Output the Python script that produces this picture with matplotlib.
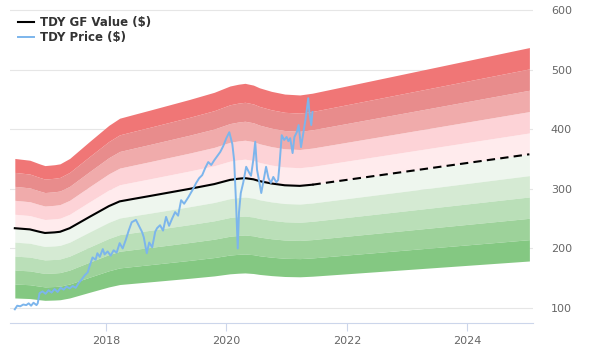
import matplotlib
matplotlib.use('Agg')
import matplotlib.pyplot as plt
import numpy as np

# GF Value (solid = historical, dashed = projected)
gf_years = [2016.49, 2016.74, 2016.9, 2016.99, 2017.15, 2017.24, 2017.4,
            2017.73, 2018.05, 2018.23, 2018.45, 2018.73, 2019.39, 2019.8,
            2020.06, 2020.2, 2020.31, 2020.45, 2020.55, 2020.75, 2020.97,
            2021.22, 2021.43]
gf_vals = [234, 232, 228, 226, 227, 228, 234, 253, 271, 279, 283, 288, 300,
           308, 315, 317, 318, 316, 313, 309, 306, 305, 307]
proj_years = [2021.43, 2025.03]
proj_vals = [307, 358]

# TDY price
price_years = [2016.49, 2016.53, 2016.58, 2016.63, 2016.68, 2016.72, 2016.76,
               2016.8, 2016.85, 2016.87, 2016.9, 2016.95, 2017.0, 2017.05,
               2017.1, 2017.15, 2017.2, 2017.25, 2017.3, 2017.35, 2017.4,
               2017.45, 2017.5, 2017.55, 2017.6, 2017.65, 2017.7, 2017.73,
               2017.78, 2017.83, 2017.86, 2017.9, 2017.95, 2017.98, 2018.03,
               2018.08, 2018.13, 2018.18, 2018.23, 2018.28, 2018.33, 2018.38,
               2018.43, 2018.5, 2018.55, 2018.6, 2018.63, 2018.68, 2018.72,
               2018.77, 2018.82, 2018.85, 2018.9, 2018.95, 2019.0, 2019.05,
               2019.1, 2019.15, 2019.2, 2019.25, 2019.3, 2019.37, 2019.45,
               2019.5, 2019.55, 2019.6, 2019.65, 2019.7, 2019.75, 2019.8,
               2019.85, 2019.9, 2019.95, 2020.0, 2020.05, 2020.1, 2020.13,
               2020.16, 2020.19, 2020.21, 2020.24, 2020.28, 2020.33, 2020.38,
               2020.41, 2020.45, 2020.48, 2020.51, 2020.55, 2020.58, 2020.62,
               2020.66, 2020.7, 2020.74, 2020.78, 2020.83, 2020.86, 2020.88,
               2020.92, 2020.96, 2021.0, 2021.03, 2021.06, 2021.1, 2021.13,
               2021.17, 2021.2, 2021.24, 2021.28, 2021.32, 2021.36, 2021.38,
               2021.41, 2021.43]
price_vals = [98, 104, 103, 106, 105, 108, 104, 109, 105, 108, 125, 128, 124,
              130, 126, 132, 127, 134, 131, 136, 133, 137, 134, 142, 148, 155,
              160, 170, 185, 181, 192, 186, 199, 190, 195, 188, 197, 193, 209,
              200, 214, 230, 244, 248, 238, 228, 219, 192, 210, 202, 228, 234,
              239, 230, 253, 238, 250, 261, 255, 281, 275, 286, 300, 310, 318,
              323, 335, 345, 340, 348, 355, 362, 372, 385, 395, 375, 348, 280,
              200, 260, 293, 310, 337, 327, 322, 350, 379, 332, 310, 293, 315,
              337, 318, 310, 320, 311, 315, 337, 390, 382, 387, 380, 385, 360,
              387, 395, 407, 370, 395, 420, 452, 427, 407, 429]

band_steps = [0.1, 0.2, 0.3, 0.4, 0.5]
red_colors = ['#ffebed', '#fdd3d7', '#f0abab', '#e88c8c', '#f07676']
green_colors = ['#eef6ee', '#d5ead3', '#badfb8', '#9dd29a', '#84c882']

fig = plt.figure(figsize=(6, 3.6), dpi=100)
ax = fig.add_axes([10 / 600, 1 - 323 / 360, 523 / 600, 323 / 360])

bx = np.array(gf_years + proj_years[1:])
bv = np.array(gf_vals + proj_vals[1:])
prev_hi = bv
prev_lo = bv
for s, rc, gc in zip(band_steps, red_colors, green_colors):
    hi = bv * (1 + s)
    lo = bv * (1 - s)
    ax.fill_between(bx, prev_hi, hi, color=rc, lw=0, zorder=1)
    ax.fill_between(bx, lo, prev_lo, color=gc, lw=0, zorder=1)
    prev_hi, prev_lo = hi, lo

ax.plot(gf_years, gf_vals, color='black', lw=1.5, zorder=3,
        label='TDY GF Value ($)')
ax.plot(proj_years, proj_vals, color='black', lw=1.5, ls=(0, (4, 2.5)),
        zorder=3)
ax.plot(price_years, price_vals, color='#7cb5ec', lw=1.4, zorder=4,
        label='TDY Price ($)')

ax.set_xlim(2016.41, 2025.09)
ax.set_ylim(75, 600 + 10 / 0.596)
ax.yaxis.tick_right()
ax.set_yticks([100, 200, 300, 400, 500, 600])
ax.set_xticks([2018, 2020, 2022, 2024])
ax.grid(axis='y', color='#e6e6e6', lw=0.8, zorder=0)
ax.set_axisbelow(True)
for side in ['top', 'left', 'right']:
    ax.spines[side].set_visible(False)
ax.spines['bottom'].set_color('#ccd6eb')
ax.tick_params(axis='x', colors='#ccd6eb', length=6, width=0.8,
               labelcolor='#666666', labelsize=8, pad=3)
ax.tick_params(axis='y', length=0, labelcolor='#666666', labelsize=8, pad=28)
for lbl in ax.get_yticklabels():
    lbl.set_horizontalalignment('right')

leg = ax.legend(loc='upper left', bbox_to_anchor=(0.0, 0.975), frameon=False,
                handlelength=1.3, handletextpad=0.5, labelspacing=0.15,
                borderaxespad=0.3, prop={'weight': 'bold', 'size': 8.5})
for t in leg.get_texts():
    t.set_color('#333333')

fig.savefig('out.png', dpi=100)
